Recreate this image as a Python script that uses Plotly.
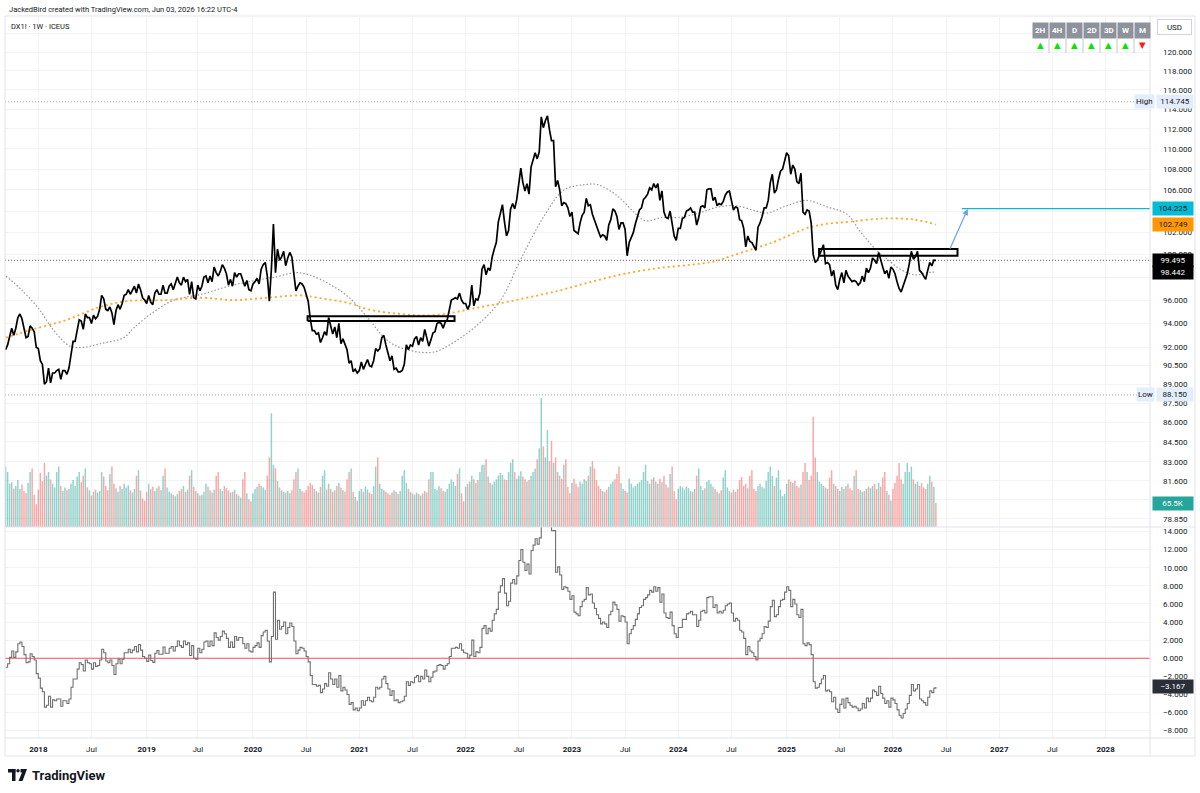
import numpy as np
import pandas as pd
import plotly.graph_objects as go

FONT = "Roboto, Arial, sans-serif"
TXT = "#131722"

# ------------------------------------------------------------------ data
first_bar = {
    2017: "2017-09-11", 2018: "2018-01-01", 2019: "2019-01-07", 2020: "2020-01-06",
    2021: "2021-01-04", 2022: "2022-01-03", 2023: "2023-01-02", 2024: "2024-01-01",
    2025: "2025-01-06", 2026: "2026-01-05",
}

# weekly closes (DX1!)
close_2017 = [91.8, 92.2, 92.9, 93.6, 93.0, 93.6, 94.5, 94.8, 94.4, 93.6, 92.8, 92.9, 93.8, 93.6, 93.3, 92.0]
close_2018 = [91.9, 90.9, 90.6, 89.0, 89.2, 90.3, 89.1, 89.9, 89.9, 90.1,
              90.2, 89.4, 90.1, 90.1, 89.8, 90.3, 91.6, 92.5, 92.5, 93.6,
              94.3, 94.2, 93.5, 94.8, 94.5, 94.5, 94.0, 94.7, 94.4, 94.6,
              95.2, 96.4, 96.1, 95.2, 95.1, 95.4, 94.9, 93.9, 95.1, 95.6,
              95.2, 95.7, 96.4, 96.5, 96.9, 96.5, 96.8, 97.2, 96.6, 97.4,
              96.9, 96.2, 96.0]
close_2019 = [95.7, 96.4, 95.8, 95.6, 96.6, 96.9, 96.5, 96.5, 97.3, 96.6,
              96.6, 97.2, 97.4, 96.9, 97.4, 98.0, 97.5, 97.3, 98.0, 97.6,
              97.8, 96.5, 97.6, 96.2, 96.1, 97.3, 96.8, 97.2, 98.0, 98.1,
              97.5, 98.1, 97.6, 98.9, 98.4, 98.1, 98.5, 99.1, 98.8, 98.3,
              97.3, 97.8, 97.2, 98.4, 98.0, 98.3, 98.3, 97.7, 97.2, 97.7,
              96.9, 96.8]
close_2020 = [97.4, 97.6, 97.9, 97.4, 98.7, 99.1, 99.3, 98.1, 95.9, 98.7,
              102.8, 98.4, 100.5, 99.5, 99.8, 100.3, 99.0, 99.7, 100.2, 99.8,
              98.2, 96.8, 97.2, 97.5, 97.4, 97.1, 96.5, 95.9, 94.4, 93.4,
              93.4, 93.1, 93.2, 92.4, 92.8, 93.3, 93.0, 94.5, 93.8, 93.1,
              93.7, 92.8, 94.0, 92.3, 92.7, 92.3, 91.8, 90.7, 90.9, 90.0,
              90.2, 89.9]
close_2021 = [90.1, 90.8, 90.2, 90.6, 91.0, 90.5, 90.4, 90.9, 91.9, 91.7,
              91.9, 92.8, 93.0, 92.2, 91.6, 90.9, 91.3, 90.2, 90.3, 90.0,
              90.0, 90.1, 90.6, 92.2, 91.8, 92.2, 92.1, 92.7, 92.9, 92.2,
              92.8, 92.5, 93.5, 92.7, 92.1, 92.6, 93.2, 93.3, 94.0, 94.1,
              94.0, 93.6, 94.1, 94.3, 95.1, 96.0, 96.1, 96.2, 96.1, 96.6,
              96.0, 95.7]
close_2022 = [95.7, 95.2, 95.6, 97.3, 95.5, 96.1, 96.0, 96.6, 98.7, 99.1,
              98.2, 98.8, 98.6, 99.8, 100.5, 101.1, 103.0, 103.7, 104.6, 103.0,
              101.7, 102.2, 104.2, 104.7, 104.2, 105.1, 106.9, 108.1, 106.7, 105.9,
              106.6, 105.6, 108.2, 108.8, 109.6, 109.0, 109.7, 113.2, 112.1, 112.8,
              113.3, 111.9, 110.8, 110.8, 106.3, 106.9, 106.0, 104.5, 104.8, 104.7,
              104.3, 103.5]
close_2023 = [103.9, 102.2, 102.0, 101.9, 102.9, 103.6, 103.9, 105.2, 104.5, 104.6,
              103.7, 103.1, 102.5, 102.1, 101.6, 101.8, 101.7, 101.3, 102.7, 103.2,
              104.2, 104.0, 103.5, 102.3, 102.9, 102.9, 102.3, 99.9, 101.1, 101.6,
              102.0, 102.8, 103.4, 104.1, 104.3, 105.1, 105.3, 105.6, 106.2, 106.0,
              106.6, 106.2, 106.6, 105.0, 105.9, 103.9, 103.4, 103.3, 104.0, 102.6,
              101.7, 101.3]
close_2024 = [102.4, 102.4, 103.3, 103.4, 104.0, 104.1, 104.3, 103.9, 103.9, 102.7,
              103.4, 104.4, 104.5, 104.3, 106.0, 106.1, 106.1, 105.0, 105.3, 104.5,
              104.7, 104.6, 104.9, 105.5, 105.8, 105.9, 104.9, 104.1, 104.4, 104.3,
              103.2, 103.1, 102.4, 100.7, 101.7, 101.2, 101.1, 100.7, 100.4, 102.5,
              102.9, 103.5, 104.3, 104.3, 105.0, 106.7, 107.5, 105.7, 106.0, 107.0,
              107.8, 108.0, 108.9]
close_2025 = [109.6, 109.3, 107.5, 108.4, 108.0, 106.8, 106.6, 107.6, 103.9, 103.7,
              104.1, 104.0, 102.9, 100.0, 99.3, 99.5, 99.9, 100.4, 100.9, 99.2,
              99.3, 99.1, 98.1, 98.6, 97.3, 96.9, 97.8, 98.4, 97.5, 98.6,
              98.1, 97.8, 97.6, 97.7, 97.6, 97.3, 97.5, 98.1, 97.6, 98.8,
              98.4, 98.8, 99.7, 99.5, 99.2, 100.2, 99.4, 98.9, 98.3, 98.6,
              97.9, 98.9]
close_2026 = [98.7, 98.3, 97.6, 97.0, 96.7, 97.2, 97.7, 98.3, 99.2, 100.3,
              99.6, 99.8, 100.3, 98.6, 98.4, 98.1, 97.8, 98.6, 99.3, 99.0,
              99.5, 99.495]

# weekly volume, thousands of contracts
vol_2017 = [165, 150, 118, 122, 105, 112, 128, 104, 116, 98, 92, 120, 150, 160, 88, 62]
vol_2018 = [102, 148, 125, 175, 140, 150, 130, 118, 108, 150,
            165, 112, 98, 108, 100, 104, 118, 128, 112, 138,
            150, 122, 140, 160, 108, 100, 86, 96, 102, 94,
            98, 150, 138, 112, 100, 145, 165, 118, 106, 96,
            112, 104, 118, 108, 114, 100, 94, 104, 140, 155,
            100, 78, 72]
vol_2019 = [96, 118, 104, 110, 98, 106, 112, 100, 140, 160,
            108, 96, 92, 88, 84, 90, 98, 104, 112, 96,
            102, 140, 155, 110, 98, 92, 86, 88, 96, 118,
            110, 100, 94, 102, 140, 150, 104, 98, 112, 106,
            100, 94, 96, 102, 90, 86, 80, 130, 150, 92,
            76, 70]
vol_2020 = [92, 104, 110, 118, 112, 108, 102, 140, 190, 310,
            170, 160, 125, 108, 100, 96, 94, 98, 92, 100,
            130, 150, 160, 104, 98, 94, 100, 112, 120, 115,
            104, 98, 94, 110, 140, 155, 102, 118, 104, 96,
            100, 112, 120, 108, 100, 96, 130, 150, 160, 96,
            82, 72]
vol_2021 = [98, 104, 96, 110, 102, 94, 90, 112, 165, 190,
            118, 104, 100, 96, 92, 88, 94, 100, 96, 90,
            98, 140, 155, 120, 104, 96, 92, 88, 94, 90,
            86, 92, 98, 94, 130, 150, 150, 104, 100, 112,
            106, 98, 96, 104, 118, 130, 124, 112, 145, 160,
            92, 70]
vol_2022 = [110, 118, 124, 140, 130, 120, 128, 150, 170, 170,
            185, 138, 120, 116, 124, 130, 140, 148, 142, 130,
            128, 150, 175, 185, 150, 132, 140, 152, 138, 130,
            124, 128, 140, 150, 160, 185, 215, 352, 220, 190,
            265, 180, 235, 175, 190, 150, 140, 132, 170, 185,
            110, 92]
vol_2023 = [120, 132, 118, 110, 124, 118, 130, 126, 140, 165,
            180, 160, 128, 112, 104, 98, 96, 102, 110, 118,
            124, 130, 145, 165, 120, 104, 98, 94, 132, 118,
            108, 112, 118, 122, 128, 150, 170, 126, 118, 130,
            136, 124, 118, 132, 122, 140, 116, 108, 145, 165,
            98, 76]
vol_2024 = [104, 112, 108, 102, 110, 106, 98, 96, 104, 140,
            160, 112, 100, 106, 124, 128, 118, 110, 104, 96,
            92, 100, 135, 155, 108, 98, 94, 102, 96, 104,
            128, 136, 112, 118, 106, 140, 155, 104, 98, 112,
            118, 110, 106, 126, 150, 165, 140, 112, 135, 155,
            102, 84, 90]
vol_2025 = [118, 130, 124, 120, 126, 112, 108, 116, 150, 175,
            150, 128, 140, 300, 190, 150, 124, 118, 112, 108,
            104, 135, 155, 118, 112, 104, 98, 110, 104, 112,
            118, 106, 100, 140, 155, 104, 100, 96, 98, 104,
            110, 106, 112, 118, 104, 120, 110, 135, 150, 98,
            88, 72]
vol_2026 = [104, 120, 140, 175, 130, 118, 150, 175, 150, 165,
            130, 118, 124, 112, 120, 108, 104, 118, 140, 124,
            110, 65.5]

# lower pane oscillator (step line)
osc_2017 = [-1.0, -0.6, 0.1, 0.8, 0.1, 0.7, 1.6, 1.8, 1.3, 0.4, -0.5, -0.4, 0.5, 0.2, -0.2, -1.7]
osc_2018 = [-2.2, -3.3, -3.7, -5.4, -5.2, -4.2, -5.4, -4.6, -4.7, -4.5,
            -4.5, -5.3, -4.7, -4.7, -5.0, -4.5, -3.2, -2.3, -2.3, -1.2,
            -0.5, -0.7, -1.4, -0.2, -0.5, -0.6, -1.2, -0.5, -0.9, -0.8,
            -0.2, 1.0, 0.6, -0.3, -0.5, -0.2, -0.8, -1.8, -0.6, -0.1,
            -0.6, -0.1, 0.6, 0.6, 1.0, 0.6, 0.9, 1.3, 0.7, 1.5,
            0.9, 0.2, 0.0]
osc_2019 = [-0.35, 0.35, -0.25, -0.45, 0.55, 0.85, 0.45, 0.45, 1.25, 0.55,
            0.55, 1.1, 1.3, 0.8, 1.3, 1.9, 1.4, 1.2, 1.9, 1.5,
            1.7, 0.3, 1.4, 0.0, -0.1, 1.1, 0.6, 1.0, 1.8, 1.9,
            1.3, 1.9, 1.4, 2.8, 2.3, 2.0, 2.4, 3.0, 2.7, 2.2,
            1.2, 1.8, 1.2, 2.4, 2.0, 2.3, 2.3, 1.6, 1.1, 1.6,
            0.8, 0.7]
osc_2020 = [1.2, 1.4, 1.7, 1.2, 2.5, 2.9, 3.1, 1.9, -0.4, 2.4,
            7.3, 2.1, 4.2, 3.2, 3.5, 4.0, 2.7, 3.4, 3.9, 3.5,
            1.9, 0.5, 0.9, 1.2, 1.1, 0.8, 0.2, -0.4, -1.9, -2.9,
            -2.9, -3.1, -3.0, -3.8, -3.4, -2.8, -3.1, -1.6, -2.3, -2.9,
            -2.3, -3.2, -1.9, -3.6, -3.2, -3.5, -4.0, -5.1, -4.9, -5.7,
            -5.5, -5.8]
osc_2021 = [-5.5, -4.7, -5.2, -4.7, -4.3, -4.7, -4.8, -4.3, -3.2, -3.4,
            -3.2, -2.3, -2.0, -2.8, -3.4, -4.1, -3.6, -4.7, -4.6, -4.9,
            -4.8, -4.7, -4.2, -2.6, -3.0, -2.6, -2.7, -2.1, -1.9, -2.6,
            -2.0, -2.3, -1.3, -2.0, -2.6, -2.1, -1.5, -1.4, -0.8, -0.7,
            -0.8, -1.2, -0.8, -0.6, 0.2, 1.1, 1.1, 1.2, 1.1, 1.6,
            0.9, 0.6]
osc_2022 = [0.55, 0.0, 0.35, 2.0, 0.2, 0.7, 0.6, 1.2, 3.3, 3.6,
            2.7, 3.3, 3.0, 4.2, 4.9, 5.4, 7.3, 8.0, 8.8, 7.2,
            5.8, 6.3, 8.3, 8.7, 8.2, 9.1, 10.8, 12.0, 10.6, 9.7,
            10.4, 9.3, 11.9, 12.5, 13.2, 12.6, 13.3, 16.7, 15.6, 16.2,
            16.7, 15.3, 14.1, 14.1, 9.5, 10.1, 9.2, 7.6, 7.9, 7.8,
            7.4, 6.5]
osc_2023 = [6.9, 5.1, 4.9, 4.7, 5.7, 6.3, 6.5, 7.8, 7.0, 7.1,
            6.1, 5.5, 4.8, 4.4, 3.8, 4.0, 3.8, 3.4, 4.8, 5.2,
            6.2, 5.9, 5.4, 4.1, 4.7, 4.6, 4.0, 1.6, 2.7, 3.2,
            3.6, 4.3, 4.9, 5.6, 5.8, 6.5, 6.7, 7.0, 7.5, 7.3,
            7.9, 7.4, 7.8, 6.2, 7.1, 5.0, 4.5, 4.4, 5.1, 3.6,
            2.7, 2.3]
osc_2024 = [3.4, 3.4, 4.3, 4.3, 4.9, 5.0, 5.2, 4.8, 4.8, 3.5,
            4.2, 5.2, 5.3, 5.0, 6.7, 6.8, 6.8, 5.6, 5.9, 5.0,
            5.2, 5.0, 5.3, 5.8, 6.0, 6.1, 5.0, 4.1, 4.4, 4.2,
            3.1, 2.9, 2.2, 0.4, 1.3, 0.8, 0.6, 0.2, -0.2, 1.9,
            2.2, 2.7, 3.5, 3.4, 4.1, 5.7, 6.4, 4.6, 4.8, 5.7,
            6.4, 6.5, 7.3]
osc_2025 = [7.9, 7.5, 5.7, 6.5, 6.0, 4.8, 4.5, 5.4, 1.6, 1.4,
            1.7, 1.5, 0.4, -2.6, -3.3, -3.2, -2.8, -2.3, -1.9, -3.6,
            -3.5, -3.7, -4.8, -4.3, -5.6, -6.0, -5.1, -4.5, -5.5, -4.4,
            -4.9, -5.2, -5.4, -5.3, -5.5, -5.8, -5.6, -5.0, -5.5, -4.4,
            -4.8, -4.4, -3.5, -3.7, -4.1, -3.1, -3.9, -4.4, -5.0, -4.7,
            -5.4, -4.4]
osc_2026 = [-4.6, -5.0, -5.7, -6.3, -6.6, -6.1, -5.6, -5.0, -4.1, -2.9,
            -3.6, -3.4, -2.9, -4.5, -4.7, -4.9, -5.2, -4.3, -3.6, -3.8,
            -3.3, -3.167]

# moving averages (read at intervals)
grey_ma_dates = ["2017-09-12", "2017-11-08", "2018-01-07", "2018-02-20", "2018-04-19", "2018-06-03",
                 "2018-08-01", "2018-10-20", "2018-11-23", "2019-02-01", "2019-04-12", "2019-07-14",
                 "2019-10-15", "2020-01-12", "2020-03-21", "2020-05-29", "2020-07-16", "2020-09-23",
                 "2020-12-01", "2021-02-08", "2021-04-04", "2021-06-02", "2021-09-14", "2021-11-22",
                 "2022-02-09", "2022-05-03", "2022-07-11", "2022-09-28", "2022-12-06", "2023-02-14",
                 "2023-03-31", "2023-06-08", "2023-08-06", "2023-09-10", "2023-11-07", "2024-01-01",
                 "2024-03-10", "2024-05-19", "2024-07-17", "2024-09-24", "2024-10-29", "2025-01-06",
                 "2025-03-16", "2025-05-24", "2025-08-01", "2025-09-15", "2025-11-02", "2025-12-16",
                 "2026-01-30", "2026-03-19", "2026-05-03", "2026-06-01"]
grey_ma_vals = [98.1, 96.8, 95.1, 93.5, 92.1, 92.0,
                92.3, 92.8, 93.6, 95.0, 96.0, 96.5,
                97.2, 97.7, 98.0, 98.4, 98.2, 97.4,
                96.2, 94.3, 92.7, 91.9, 91.6, 92.4,
                93.8, 96.0, 99.6, 103.5, 106.0, 106.5,
                106.5, 105.4, 103.8, 103.1, 103.4, 103.4,
                103.8, 104.4, 104.5, 104.0, 103.8, 104.5,
                105.0, 104.4, 103.7, 102.1, 100.6, 99.6,
                98.7, 98.2, 98.4, 98.442]
orange_ma_dates = ["2017-09-12", "2017-12-13", "2018-04-08", "2018-07-31", "2018-10-31", "2019-03-17",
                   "2019-07-08", "2019-10-30", "2020-02-24", "2020-06-17", "2020-08-14", "2020-12-05",
                   "2021-02-03", "2021-05-27", "2021-09-17", "2022-02-25", "2022-07-13", "2022-11-16",
                   "2023-03-11", "2023-07-02", "2023-10-24", "2024-02-14", "2024-05-05", "2024-07-02",
                   "2024-10-04", "2024-11-28", "2025-01-27", "2025-03-26", "2025-05-21", "2025-08-08",
                   "2025-11-28", "2026-03-21", "2026-06-01"]
orange_ma_vals = [92.8, 93.5, 94.3, 95.4, 95.9, 96.0,
                  96.2, 96.0, 96.2, 96.4, 96.2, 95.7,
                  95.2, 94.8, 94.7, 95.4, 96.1, 96.8,
                  97.6, 98.3, 98.8, 99.1, 99.4, 99.9,
                  100.7, 101.2, 101.9, 102.5, 102.8, 103.0,
                  103.3, 103.2, 102.749]

# drawings and reference levels
box1_dates, box1_prices = ["2020-07-11", "2021-11-26"], [94.2, 94.6]
box2_dates, box2_prices = ["2025-04-27", "2026-08-14"], [99.9, 100.5]
arrow_dates, arrow_prices = ["2026-07-17", "2026-09-18"], [100.4, 104.2]
target_start, target_price = "2026-08-29", 104.225
high_value, low_value = 114.745, 88.150
last_volume_text = "65.5K"

price_ticks = [122, 120, 118, 116, 114, 112, 110, 108, 106, 104, 102, 100, 98, 96, 94, 92,
               90.5, 89, 87.5, 86, 84.5, 83, 81.6, 80.2, 78.85]
hidden_price_ticks = [122, 104, 98, 80.2]      # gridline only, label sits under a tag
osc_ticks = [14, 12, 10, 8, 6, 4, 2, 0, -2, -4, -6, -8]
tf_labels = ["2H", "4H", "D", "2D", "3D", "W", "M"]
tf_signals = ["up", "up", "up", "up", "up", "up", "down"]

# ------------------------------------------------------------------ assembly
closes = {2017: close_2017, 2018: close_2018, 2019: close_2019, 2020: close_2020, 2021: close_2021,
          2022: close_2022, 2023: close_2023, 2024: close_2024, 2025: close_2025, 2026: close_2026}
vols = {2017: vol_2017, 2018: vol_2018, 2019: vol_2019, 2020: vol_2020, 2021: vol_2021,
        2022: vol_2022, 2023: vol_2023, 2024: vol_2024, 2025: vol_2025, 2026: vol_2026}
oscs = {2017: osc_2017, 2018: osc_2018, 2019: osc_2019, 2020: osc_2020, 2021: osc_2021,
        2022: osc_2022, 2023: osc_2023, 2024: osc_2024, 2025: osc_2025, 2026: osc_2026}


def series(d):
    xs, ys = [], []
    for yr, vals in d.items():
        xs.extend(pd.date_range(first_bar[yr], periods=len(vals), freq="7D"))
        ys.extend(vals)
    return pd.DatetimeIndex(xs), np.array(ys, dtype=float)


px_dates, px_close = series(closes)
v_dates, v_vals = series(vols)
o_dates, o_vals = series(oscs)

close_map = dict(zip(px_dates, px_close))
vol_colors = []
prev = None
for d in v_dates:
    c = close_map.get(d, prev)
    up = prev is None or c >= prev
    vol_colors.append("rgba(38,166,154,0.5)" if up else "rgba(239,83,80,0.5)")
    prev = c

# ------------------------------------------------------------------ geometry
L, R, T, B = 5, 50, 17, 55
WIDTH, HEIGHT = 1200, 793
PW, PH = WIDTH - L - R, HEIGHT - T - B


def pxx(px):
    return (px - L) / PW


def pxy(py):
    return (T + PH - py) / PH


split = pxy(527)
x_range = ["2017-09-09", "2028-06-03"]
price_range = [np.log10(78.27), np.log10(123.84)]
osc_range = [-8.81, 14.5]
vol_range = [0, 1392]


def fmt(v):
    return f"{v:.3f}".replace("-", "\u2212")


def first_monday(ts):
    ts = pd.Timestamp(ts)
    return ts + pd.Timedelta(days=(7 - ts.weekday()) % 7)


xt_vals, xt_text = [], []
for yr in range(2018, 2029):
    xt_vals.append(first_monday(f"{yr}-01-01"))
    xt_text.append(f"<b>{yr}</b>")
    if yr < 2028:
        xt_vals.append(first_monday(f"{yr}-07-01"))
        xt_text.append("Jul")

fig = go.Figure()

fig.add_trace(go.Bar(x=v_dates, y=v_vals, yaxis="y3", marker=dict(color=vol_colors, line=dict(width=0)),
                     width=7 * 86400000 * 0.72, hoverinfo="skip"))

for lvl in (high_value, low_value):
    fig.add_trace(go.Scatter(x=x_range, y=[lvl, lvl], mode="lines",
                             line=dict(color="#a0a3ab", width=1, dash="1px,2px"), hoverinfo="skip"))
fig.add_trace(go.Scatter(x=x_range, y=[px_close[-1]] * 2, mode="lines",
                         line=dict(color="#5d606b", width=1, dash="1px,2px"), hoverinfo="skip"))

fig.add_trace(go.Scatter(x=pd.to_datetime(grey_ma_dates), y=grey_ma_vals, mode="lines",
                         line=dict(color="#969696", width=1.2, dash="1.5px,2px", shape="spline",
                                   smoothing=1.0),
                         hoverinfo="skip"))
fig.add_trace(go.Scatter(x=pd.to_datetime(orange_ma_dates), y=orange_ma_vals, mode="lines",
                         line=dict(color="#ffa726", width=1.8, dash="2px,3px", shape="spline", smoothing=1.0),
                         hoverinfo="skip"))

fig.add_trace(go.Scatter(x=px_dates, y=px_close, mode="lines", line=dict(color="#000000", width=1.7),
                         hoverinfo="skip"))

for bd, bp in ((box1_dates, box1_prices), (box2_dates, box2_prices)):
    fig.add_trace(go.Scatter(x=[bd[0], bd[1], bd[1], bd[0], bd[0]], y=[bp[0], bp[0], bp[1], bp[1], bp[0]],
                             mode="lines", line=dict(color="#000000", width=2), hoverinfo="skip"))

fig.add_trace(go.Scatter(x=[target_start, x_range[1]], y=[target_price] * 2, mode="lines",
                         line=dict(color="#00bcd4", width=1.2), hoverinfo="skip"))

fig.add_trace(go.Scatter(x=x_range, y=[0, 0], yaxis="y2", mode="lines",
                         line=dict(color="#f7525f", width=1), hoverinfo="skip"))
fig.add_trace(go.Scatter(x=o_dates, y=o_vals, yaxis="y2", mode="lines",
                         line=dict(color="#707070", width=1.1, shape="hv"), hoverinfo="skip"))

grid = "#f2f3f5"
axis_font = dict(family=FONT, size=8, color=TXT)

fig.update_layout(
    width=WIDTH, height=HEIGHT, margin=dict(l=L, r=R, t=T, b=B),
    paper_bgcolor="white", plot_bgcolor="white", showlegend=False, hovermode=False,
    font=dict(family=FONT, color=TXT),
    xaxis=dict(type="date", range=x_range, anchor="y2", tickvals=xt_vals, ticktext=xt_text,
               showgrid=True, gridcolor=grid, gridwidth=1, zeroline=False, showline=False,
               ticks="", tickfont=axis_font, ticklabelstandoff=5),
    yaxis=dict(type="log", domain=[split, 1], range=price_range, side="right", anchor="x",
               tickvals=price_ticks,
               ticktext=["" if v in hidden_price_ticks else fmt(v) for v in price_ticks],
               showgrid=True, gridcolor=grid, zeroline=False, showline=False, ticks="",
               tickfont=axis_font, ticklabelstandoff=12),
    yaxis2=dict(domain=[0, split], range=osc_range, side="right", anchor="x",
                tickvals=osc_ticks, ticktext=[fmt(v) for v in osc_ticks],
                showgrid=True, gridcolor=grid, zeroline=False, showline=False, ticks="",
                tickfont=axis_font, ticklabelstandoff=12),
    yaxis3=dict(overlaying="y", range=vol_range, visible=False, side="right"),
)

line_c = "#e0e3eb"
shapes = [
    dict(type="rect", xref="paper", yref="paper", x0=pxx(5), x1=pxx(1195), y0=pxy(16), y1=pxy(756),
         line=dict(color=line_c, width=1)),
    dict(type="line", xref="paper", yref="paper", x0=pxx(5), x1=pxx(1195), y0=pxy(527), y1=pxy(527),
         line=dict(color=line_c, width=1)),
    dict(type="line", xref="paper", yref="paper", x0=pxx(5), x1=pxx(1195), y0=pxy(738), y1=pxy(738),
         line=dict(color=line_c, width=1)),
    dict(type="line", xref="paper", yref="paper", x0=pxx(1150), x1=pxx(1150), y0=pxy(16), y1=pxy(756),
         line=dict(color=line_c, width=1)),
]

annotations = []
annotations.append(dict(xref="paper", yref="paper", x=pxx(7), y=pxy(9), xanchor="left", yanchor="middle",
                        text="JackedBird created with TradingView.com, Jun 03, 2026 16:22 UTC-4",
                        showarrow=False, font=dict(family=FONT, size=7.5, color=TXT)))
annotations.append(dict(xref="paper", yref="paper", x=pxx(9), y=pxy(27), xanchor="left", yanchor="middle",
                        text="DX1! \u00b7 1W \u00b7 ICEUS", showarrow=False,
                        font=dict(family=FONT, size=7.5, color=TXT)))

annotations.append(dict(xref="paper", yref="paper", x=pxx(1174.5), y=pxy(27), xanchor="center",
                        yanchor="middle", text="USD", showarrow=False, width=31, height=12,
                        bgcolor="white", bordercolor="#d1d4dc", borderwidth=1, borderpad=1,
                        font=dict(family=FONT, size=8, color=TXT)))

x0t, cw = 1032, 17
for j, (lab, sig) in enumerate(zip(tf_labels, tf_signals)):
    xl = x0t + cw * j
    shapes.append(dict(type="rect", xref="paper", yref="paper", x0=pxx(xl + 0.5), x1=pxx(xl + cw - 0.5),
                       y0=pxy(38.5), y1=pxy(22.5), fillcolor="#8d929c", line=dict(width=0)))
    if j > 0:
        shapes.append(dict(type="line", xref="paper", yref="paper", x0=pxx(xl), x1=pxx(xl),
                           y0=pxy(38.5), y1=pxy(53), line=dict(color="#c4c6cc", width=1)))
    annotations.append(dict(xref="paper", yref="paper", x=pxx(xl + cw / 2), y=pxy(30.5), xanchor="center",
                            yanchor="middle", text=f"<b>{lab}</b>", showarrow=False,
                            font=dict(family=FONT, size=8, color="white")))
    annotations.append(dict(xref="paper", yref="paper", x=pxx(xl + cw / 2), y=pxy(45.5), xanchor="center",
                            yanchor="middle", text="\u25b2" if sig == "up" else "\u25bc", showarrow=False,
                            font=dict(family="DejaVu Sans", size=8.5,
                                      color="#00e600" if sig == "up" else "#ff1a1a")))


def axis_label(yref, y, text, bg, fg):
    return dict(xref="paper", yref=yref, x=pxx(1152), y=y, xanchor="left", yanchor="middle", text=text,
                showarrow=False, bgcolor=bg, width=38, height=11, borderpad=1, align="center",
                font=dict(family=FONT, size=8, color=fg))


annotations += [
    axis_label("y", np.log10(target_price), fmt(target_price), "#00bcd4", TXT),
    axis_label("y", np.log10(orange_ma_vals[-1]), fmt(orange_ma_vals[-1]), "#ff9800", TXT),
    axis_label("y", np.log10(px_close[-1]), fmt(px_close[-1]), "#000000", "white"),
    axis_label("y", np.log10(grey_ma_vals[-1]), fmt(grey_ma_vals[-1]), "#000000", "white"),
    axis_label("y3", v_vals[-1], last_volume_text, "#26a69a", "white"),
    axis_label("y2", o_vals[-1], fmt(o_vals[-1]), "#2a2e39", "white"),
]

for name, val in (("High", high_value), ("Low", low_value)):
    annotations.append(dict(xref="paper", yref="y", x=pxx(1154.5), y=np.log10(val), xanchor="right",
                            yanchor="middle", text=name, showarrow=False, bgcolor="#e3edfb",
                            height=11, borderpad=1, font=dict(family=FONT, size=8, color=TXT)))
    annotations.append(dict(xref="paper", yref="y", x=pxx(1155.5), y=np.log10(val), xanchor="left",
                            yanchor="middle", text=fmt(val), showarrow=False, bgcolor="#e3edfb",
                            width=34, height=11, borderpad=1, font=dict(family=FONT, size=8, color=TXT)))

annotations.append(dict(xref="x", yref="y", axref="x", ayref="y", x=arrow_dates[1],
                        y=np.log10(arrow_prices[1]), ax=arrow_dates[0], ay=np.log10(arrow_prices[0]),
                        text="", showarrow=True, arrowhead=2, arrowsize=1, arrowwidth=1.2,
                        arrowcolor="#6c9ef8"))

annotations.append(dict(xref="paper", yref="paper", x=pxx(30), y=pxy(775), xanchor="left", yanchor="middle",
                        text="<b>TradingView</b>", showarrow=False,
                        font=dict(family=FONT, size=13, color="#131722")))
shapes += [
    dict(type="rect", xref="paper", yref="paper", x0=pxx(8), x1=pxx(15.5), y0=pxy(772.5), y1=pxy(769),
         fillcolor="#131722", line=dict(width=0)),
    dict(type="rect", xref="paper", yref="paper", x0=pxx(12), x1=pxx(15.5), y0=pxy(781), y1=pxy(769),
         fillcolor="#131722", line=dict(width=0)),
    dict(type="circle", xref="paper", yref="paper", x0=pxx(16.3), x1=pxx(19.7), y0=pxy(772.5), y1=pxy(769),
         fillcolor="#131722", line=dict(width=0)),
    dict(type="path", xref="paper", yref="paper",
         path=(f"M {pxx(20.5)},{pxy(769)} L {pxx(27)},{pxy(769)} L {pxx(22.5)},{pxy(781)} "
               f"L {pxx(18.5)},{pxy(781)} L {pxx(22)},{pxy(772.5)} L {pxx(20.5)},{pxy(772.5)} Z"),
         fillcolor="#131722", line=dict(width=0)),
]

fig.update_layout(shapes=shapes, annotations=annotations)

fig.write_html("out.html", post_script="document.body.style.margin='0';")
